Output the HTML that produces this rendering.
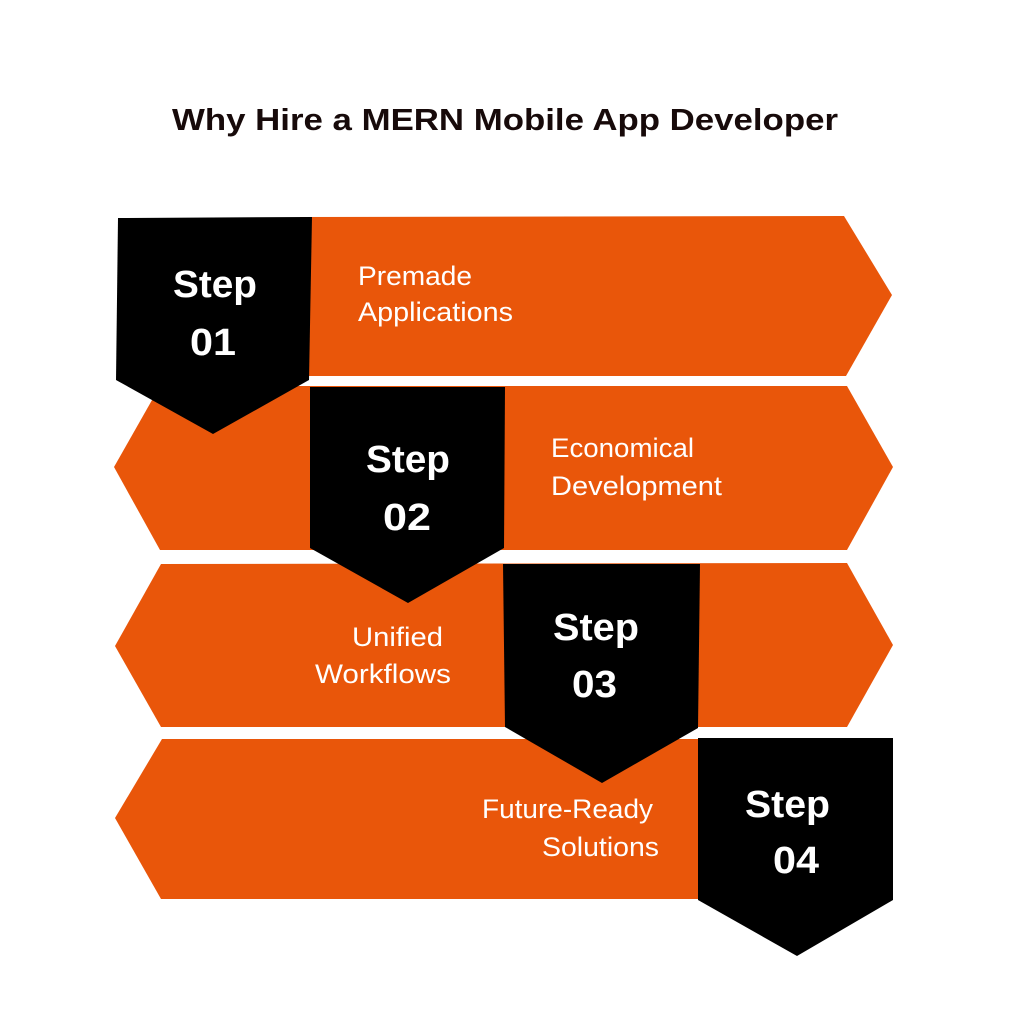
<!DOCTYPE html>
<html>
<head>
<meta charset="utf-8">
<style>
  html, body { margin:0; padding:0; background:#ffffff; }
  body { width:1024px; height:1024px; overflow:hidden; }
  svg { display:block; }
  .t { font-family: "Liberation Sans", Arial, sans-serif; }
</style>
</head>
<body>
<svg width="1024" height="1024" viewBox="0 0 1024 1024" xmlns="http://www.w3.org/2000/svg">
  <rect x="0" y="0" width="1024" height="1024" fill="#ffffff"/>

  <!-- Title -->
  <text class="t" x="172" y="130" font-size="31" font-weight="bold" fill="#170a0a" textLength="666" lengthAdjust="spacingAndGlyphs">Why Hire a MERN Mobile App Developer</text>

  <!-- Orange rows -->
  <polygon points="300,217 844,216 892,295 846,376 300,376" fill="#E9560A"/>
  <polygon points="160,386 847,386 893,467 847,550 160,550 114,467" fill="#E9560A"/>
  <polygon points="161,564 847,563 893,645 847,727 161,727 115,646" fill="#E9560A"/>
  <polygon points="162,739 700,739 700,899 161,899 115,818" fill="#E9560A"/>

  <!-- Black step badges -->
  <polygon points="118,218 312,217 309,380 213,434 116,380" fill="#000000"/>
  <polygon points="310,387 505,387 504,548 408,603 310,548" fill="#000000"/>
  <polygon points="503,564 700,564 698,728 602,783 505,727" fill="#000000"/>
  <polygon points="698,738 893,738 893,900 797,956 698,900" fill="#000000"/>

  <!-- Step labels -->
  <g class="t" font-weight="bold" font-size="38" fill="#ffffff">
    <text x="173" y="297" textLength="84" lengthAdjust="spacingAndGlyphs">Step</text>
    <text x="190" y="355" textLength="46" lengthAdjust="spacingAndGlyphs">01</text>

    <text x="366" y="472" textLength="84" lengthAdjust="spacingAndGlyphs">Step</text>
    <text x="383" y="530" textLength="48" lengthAdjust="spacingAndGlyphs">02</text>

    <text x="553" y="640" textLength="86" lengthAdjust="spacingAndGlyphs">Step</text>
    <text x="572" y="697" textLength="45" lengthAdjust="spacingAndGlyphs">03</text>

    <text x="745" y="817" textLength="85" lengthAdjust="spacingAndGlyphs">Step</text>
    <text x="773" y="873" textLength="46" lengthAdjust="spacingAndGlyphs">04</text>
  </g>

  <!-- Descriptions -->
  <g class="t" font-size="27" fill="#ffffff">
    <text x="358" y="285" textLength="114" lengthAdjust="spacingAndGlyphs">Premade</text>
    <text x="358" y="321" textLength="155" lengthAdjust="spacingAndGlyphs">Applications</text>

    <text x="551" y="457" textLength="143" lengthAdjust="spacingAndGlyphs">Economical</text>
    <text x="551" y="495" textLength="171" lengthAdjust="spacingAndGlyphs">Development</text>

    <text x="352" y="646" textLength="91" lengthAdjust="spacingAndGlyphs">Unified</text>
    <text x="315" y="683" textLength="136" lengthAdjust="spacingAndGlyphs">Workflows</text>

    <text x="482" y="818" textLength="171" lengthAdjust="spacingAndGlyphs">Future-Ready</text>
    <text x="542" y="856" textLength="117" lengthAdjust="spacingAndGlyphs">Solutions</text>
  </g>
</svg>
</body>
</html>
